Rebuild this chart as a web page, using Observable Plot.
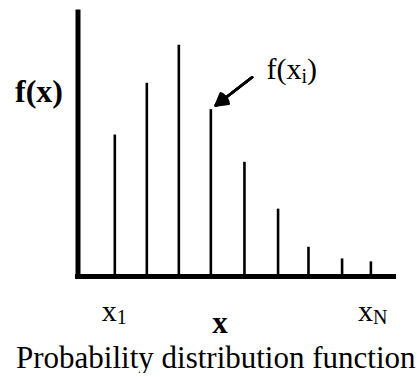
<!DOCTYPE html>
<html>
<head>
<meta charset="utf-8">
<script src="https://cdn.jsdelivr.net/npm/d3@7"></script>
<script src="https://cdn.jsdelivr.net/npm/@observablehq/plot@0.6"></script>
<style>
  html, body { margin: 0; padding: 0; background: #fff; }
  #chart { width: 419px; }
  .caption {
    font-family: "Liberation Serif", "Times New Roman", serif;
    font-size: 31px;
    line-height: 31px;
    margin: 0 0 0 16px;
    white-space: nowrap;
    color: #000;
  }
</style>
</head>
<body>
<div id="chart"></div>
<script>
// Outcomes x_i along the horizontal axis and their probabilities f(x_i)
const outcomes = [1.15, 2.15, 3.15, 4.15, 5.2, 6.25, 7.2, 8.25, 9.15];
const probabilities = [0.145, 0.198, 0.237, 0.171, 0.117, 0.069, 0.030, 0.018, 0.015];

// Tick labels under the first and last outcomes
const tickIndex = [0, 8];
const tickBase = ["x", "x"];
const tickSub = ["1", "N"];

// Axis titles and caption
const yTitle = "f(x)";
const xTitle = "x";
const captionText = "Probability distribution function";

// Callout pointing at one of the bars
const calloutBase = "f(x";
const calloutSub = "i";
const calloutClose = ")";
const calloutLabel = [{x: 6.98, y: 0.2024}];
const calloutArrow = [{x1: 5.44, y1: 0.2042, x2: 4.3, y2: 0.1752}];

const xMax = 9.95;
const yMax = 0.2731;

const bars = outcomes.map((x, i) => ({x, p: probabilities[i]}));
const ticks = tickIndex.map((k, i) => ({x: outcomes[k], base: tickBase[i], sub: tickSub[i]}));
const serif = `"Liberation Serif", "Times New Roman", serif`;
// Stacked arrowheads of decreasing angle give a solid head
const headAngles = [60, 45, 30, 15];

const plot = Plot.plot({
  width: 419,
  height: 342,
  marginLeft: 77.5,
  marginRight: 23,
  marginTop: 9.5,
  marginBottom: 66,
  x: {domain: [0, xMax], axis: null},
  y: {domain: [0, yMax], axis: null},
  style: {fontFamily: serif, background: "#fff", color: "#000", overflow: "visible"},
  marks: [
    // probability spikes
    Plot.ruleX(bars, {x: "x", y: "p", stroke: "#000", strokeWidth: 2.6}),
    // heavy axis lines
    Plot.ruleX([0], {stroke: "#000", strokeWidth: 5, insetBottom: -2.5}),
    Plot.ruleY([0], {stroke: "#000", strokeWidth: 5, insetLeft: -2.5}),
    // y title
    Plot.text([yTitle], {
      frameAnchor: "left", text: d => d, textAnchor: "end", lineAnchor: "bottom",
      dx: -15, dy: -41, fontSize: 32, fontWeight: "bold", fill: "#000"
    }),
    // x tick labels with subscripts
    Plot.text(ticks, {
      x: "x", frameAnchor: "bottom", text: "base", textAnchor: "end", lineAnchor: "bottom",
      dx: 2, dy: 44, fontSize: 30, fill: "#000"
    }),
    Plot.text(ticks, {
      x: "x", frameAnchor: "bottom", text: "sub", textAnchor: "start", lineAnchor: "bottom",
      dx: 2, dy: 47, fontSize: 20, fill: "#000"
    }),
    // x title
    Plot.text([xTitle], {
      frameAnchor: "bottom", text: d => d, textAnchor: "middle", lineAnchor: "bottom",
      dx: -17.25, dy: 56, fontSize: 31, fontWeight: "bold", fill: "#000"
    }),
    // callout label f(x_i)
    Plot.text(calloutLabel, {
      x: "x", y: "y", text: () => calloutBase, textAnchor: "end", lineAnchor: "bottom",
      fontSize: 30, fill: "#000"
    }),
    Plot.text(calloutLabel, {
      x: "x", y: "y", text: () => calloutSub, textAnchor: "start", lineAnchor: "bottom",
      dy: 4.5, fontSize: 20, fill: "#000"
    }),
    Plot.text(calloutLabel, {
      x: "x", y: "y", text: () => calloutClose, textAnchor: "start", lineAnchor: "bottom",
      dx: 5.6, fontSize: 30, fill: "#000"
    }),
    // callout arrow
    ...headAngles.map(a => Plot.arrow(calloutArrow, {
      x1: "x1", y1: "y1", x2: "x2", y2: "y2",
      headAngle: a, headLength: 8, stroke: "#000", strokeWidth: 2.5
    }))
  ]
});

const chart = document.getElementById("chart");
chart.appendChild(plot);
const caption = document.createElement("div");
caption.className = "caption";
caption.textContent = captionText;
chart.appendChild(caption);
</script>
</body>
</html>
